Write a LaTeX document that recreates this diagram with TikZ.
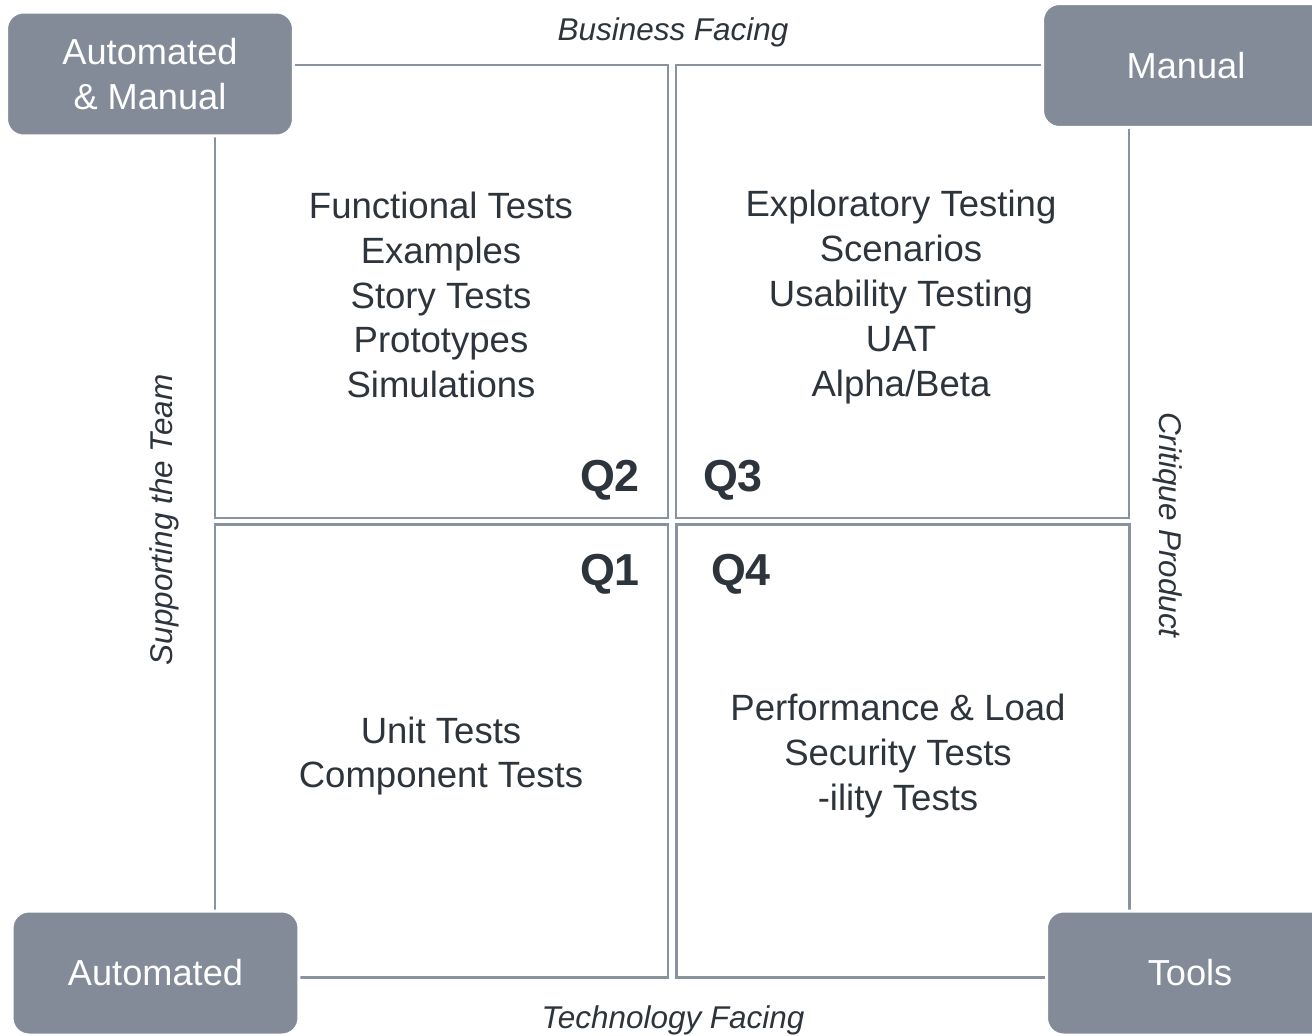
\documentclass[tikz,border=0pt]{standalone}
\usepackage{fontspec}
\setmainfont{Liberation Sans}
\usepackage{xcolor}
\definecolor{boxgray}{HTML}{838B99}
\definecolor{linegray}{HTML}{8A92A0}
\definecolor{inkgray}{HTML}{2D343B}

\begin{document}
\begin{tikzpicture}[x=0.02cm, y=-0.02cm,
    quad/.style={draw=linegray, line width=1.5pt, fill=white, inner sep=0pt,
        minimum width=9.06cm, minimum height=9.06cm},
    corner/.style={fill=boxgray, draw=white, line width=1.7pt, rounded corners=0.34cm,
        minimum width=5.74cm, minimum height=2.48cm, text=white, align=center,
        font=\fontsize{20.6}{25.5}\selectfont},
    tests/.style={text=inkgray, align=center, font=\fontsize{20.8}{25.5}\selectfont},
    qlabel/.style={text=inkgray, font=\fontsize{25.5}{30}\selectfont\bfseries},
    axis/.style={text=inkgray, font=\fontsize{17.9}{21}\selectfont\itshape}]
    \useasboundingbox[fill=white] (0,0) rectangle (1312,1035);

    % the four quadrants
    \node[quad] (q2) at (441.5,291.5) {};
    \node[quad] (q3) at (902.5,291.5) {};
    \node[quad] (q1) at (441.5,751) {};
    \node[quad] (q4) at (903,751) {};

    \node[qlabel] (q2lab) at (610,480) {Q2};
    \node[qlabel] (q3lab) at (733,480) {Q3};
    \node[qlabel] (q1lab) at (610,574) {Q1};
    \node[qlabel] (q4lab) at (741,574) {Q4};

    \node[tests] (q2txt) at (441,295) {Functional Tests\\Examples\\Story Tests\\Prototypes\\Simulations};
    \node[tests] (q3txt) at (901,297) {Exploratory Testing\\Scenarios\\Usability Testing\\UAT\\Alpha/Beta};
    \node[tests] (q1txt) at (441,756) {Unit Tests\\Component Tests};
    \node[tests] (q4txt) at (898,756) {Performance \& Load\\Security Tests\\-ility Tests};

    % corner boxes
    \node[corner] (automan) at (150,74) {Automated\\\& Manual};
    \node[corner] (manual) at (1186,65.5) {Manual};
    \node[corner] (auto) at (155.5,973) {Automated};
    \node[corner] (tools) at (1190,973) {Tools};

    % axis labels
    \node[axis] (business) at (673,32) {Business Facing};
    \node[axis] (techno) at (673,1020) {Technology Facing};
    \node[axis, rotate=90] (support) at (164,520) {Supporting the Team};
    \node[axis, rotate=-90] (critique) at (1168,525) {Critique Product};
\end{tikzpicture}
\end{document}
